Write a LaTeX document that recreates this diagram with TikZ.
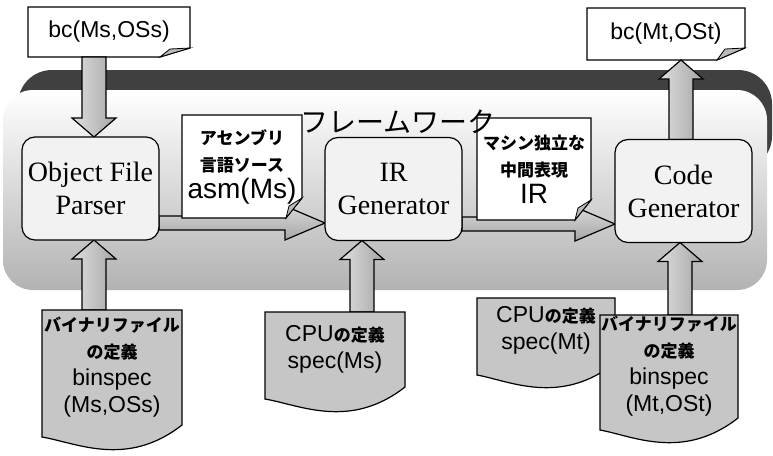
\documentclass[tikz,border=0pt]{standalone}
\usepackage{fontspec}
\setmainfont{Liberation Serif}
\setsansfont{Liberation Sans}
\newfontfamily\jpfont{Noto Sans CJK JP}
\usetikzlibrary{calc}
\pgfdeclarelayer{shapes}
\pgfsetlayers{shapes,main}
\newcommand\latA{\sffamily\mdseries\fontsize{23}{27}\selectfont}
\newcommand\latB{\sffamily\mdseries\fontsize{28}{29}\selectfont}
\newcommand\jpA{\jpfont\bfseries\fontsize{17}{27}\selectfont}
% block arrows: #1 point giving x, #2 point giving tip y, #3 point giving tail y
\newcommand\blkup[3]{\path[varrow] let \p1=#1, \p2=#2, \p3=#3 in
  (\x1-12pt,\y3) -- (\x1-12pt,\y2-19pt) -- (\x1-22pt,\y2-19pt) -- (\x1,\y2) --
  (\x1+22pt,\y2-19pt) -- (\x1+12pt,\y2-19pt) -- (\x1+12pt,\y3) -- cycle;}
\newcommand\blkdown[3]{\path[varrow] let \p1=#1, \p2=#2, \p3=#3 in
  (\x1-12pt,\y3) -- (\x1-12pt,\y2+19pt) -- (\x1-22pt,\y2+19pt) -- (\x1,\y2) --
  (\x1+22pt,\y2+19pt) -- (\x1+12pt,\y2+19pt) -- (\x1+12pt,\y3) -- cycle;}
\newcommand\blkright[2]{\path[harrow] let \p1=#1, \p2=#2 in
  (\x2,\y1+7pt) -- (\x1-40pt,\y1+7pt) -- (\x1-40pt,\y1+17pt) -- (\x1,\y1) --
  (\x1-40pt,\y1-17pt) -- (\x1-40pt,\y1-7pt) -- (\x2,\y1-7pt) -- cycle;}
% callout outline: node, cut width, cut height, fold dx, fold dy
\newcommand\calloutshape[5]{%
  \draw[outl, fill=white] (#1.north west) -- (#1.north east) -- ([yshift=#3]#1.south east)
     -- ([xshift=-#2]#1.south east) -- (#1.south west) -- cycle;
  \draw[outl, line width=0.8pt, fill=gray!55] ([yshift=#3]#1.south east) -- ([xshift=-#2]#1.south east)
     -- ([xshift=-#4,yshift=#5]#1.south east) -- cycle;}
\newcommand\docshape[1]{%
  \draw[docfill] (#1.north west) -- (#1.north east) -- (#1.south east)
   .. controls ($(#1.south east)+(-55,43)$) and ($(#1.south east)+(-105,18)$) ..
   ($(#1.south west)+(0,12)$) -- cycle;}
\tikzset{
  every node/.style={inner sep=0pt, outer sep=0pt},
  outl/.style={draw, line width=1.2pt, line join=miter},
  procbox/.style={draw, line width=1.2pt, rounded corners=13pt, fill=gray!10,
    minimum width=137pt, minimum height=103pt, align=center,
    font=\fontsize{28}{33}\selectfont},
  callbox/.style={align=center},
  docbox/.style={align=center, font=\jpA},
  harrow/.style={draw, line width=1.2pt, top color=gray!30, bottom color=gray!70},
  varrow/.style={draw, line width=1.2pt, left color=gray!25, right color=gray!70},
  docfill/.style={draw, line width=1.2pt, line join=miter, fill=gray!45},
}
\begin{document}
\begin{tikzpicture}[x=1pt,y=-1pt]
\useasboundingbox (0,0) rectangle (773,455);

% ---------- nodes (text) ----------
\node[anchor=west, font=\jpfont\fontsize{28}{30}\selectfont] (fw) at (300,122) {フレームワーク};

\node[procbox] (ofp) at (90.5,188.5) {Object File\\Parser};
\node[procbox] (irg) at (393.5,189) {IR\\Generator};
\node[procbox] (cdg) at (683.5,191) {Code\\Generator};

\node[callbox, minimum width=162pt, minimum height=50pt] (c1) at (109,32) {\latA bc(Ms,OSs)};
\node[callbox, minimum width=158pt, minimum height=52pt] (c2) at (666,34) {\latA bc(Mt,OSt)};
\node[callbox, minimum width=120pt, minimum height=103pt, font=\jpA] (c3) at (242,166.5)
  {アセンブリ\\言語ソース\\{\latB asm(Ms)}};
\node[callbox, minimum width=114pt, minimum height=102pt, font=\jpA] (c4) at (534,169)
  {マシン独立な\\中間表現\\{\latB IR}};

\node[docbox, minimum width=140pt, minimum height=115pt] (d1) at (112,367.5)
  {バイナリファイル\\の定義\\{\latA binspec}\\{\latA (Ms,OSs)}};
\node[docbox, minimum width=140pt, minimum height=75pt] (d2) at (335,349.5)
  {{\latA CPU}の定義\\{\latA spec(Ms)}};
\node[docbox, minimum width=138pt, minimum height=65pt] (d3) at (546,330.5)
  {{\latA CPU}の定義\\{\latA spec(Mt)}};
\node[docbox, minimum width=138pt, minimum height=103pt] (d4) at (669,366.5)
  {バイナリファイル\\の定義\\{\latA binspec}\\{\latA (Mt,OSt)}};

% ---------- shapes (behind text) ----------
\begin{pgfonlayer}{shapes}
  % framework container
  \fill[black!75, rounded corners=34pt] (18,70) rectangle (772,170);
  \shade[top color=white, bottom color=gray!60, rounded corners=30pt] (3,90) rectangle (767,290);

  % horizontal flow arrows
  \blkright{([yshift=-34pt]irg.west)}{(ofp.east)}
  \blkright{([yshift=-33pt]cdg.west)}{(irg.east)}

  % callouts
  \calloutshape{c1}{30pt}{9pt}{20pt}{8pt}
  \calloutshape{c2}{28pt}{12pt}{20pt}{11pt}
  \calloutshape{c3}{16pt}{20pt}{13pt}{12pt}
  \calloutshape{c4}{16pt}{20pt}{13pt}{12pt}

  % vertical arrows
  \blkdown{([xshift=3.5pt]ofp.north)}{(ofp.north)}{(c1.south)}
  \blkup{([xshift=3.5pt]ofp.south)}{(ofp.south)}{(d1.north)}
  \blkup{([xshift=-31.5pt]irg.south)}{(irg.south)}{(d2.north)}
  \blkup{([xshift=-3.5pt]cdg.south)}{(cdg.south)}{(d4.north)}
  \blkup{([xshift=-2.5pt]cdg.north)}{(c2.south)}{(cdg.north)}

  % documents
  \docshape{d1}
  \docshape{d2}
  \docshape{d3}
  \docshape{d4}
\end{pgfonlayer}
\end{tikzpicture}
\end{document}
